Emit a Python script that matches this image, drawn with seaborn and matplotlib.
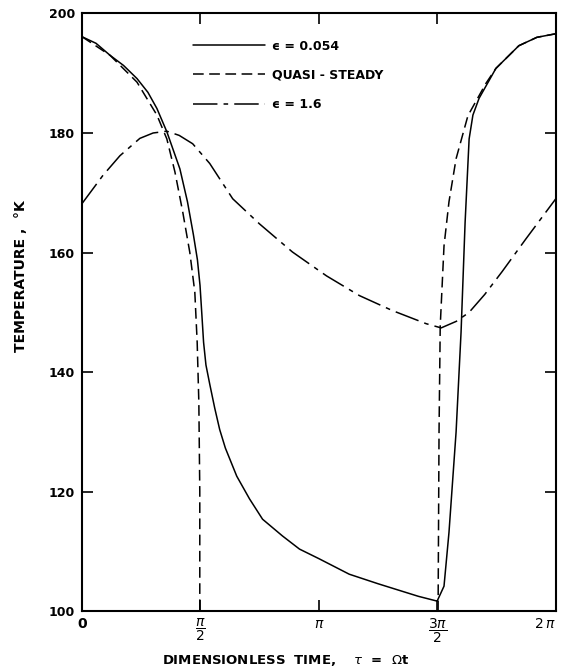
import numpy as np
import matplotlib
matplotlib.use("Agg")
import matplotlib.pyplot as plt
import seaborn as sns
from matplotlib.lines import Line2D

# time in units of pi, temperature in K
tau_eps_small = [0.000, 0.059, 0.118, 0.175, 0.232, 0.278, 0.316, 0.358, 0.413, 0.445,
                 0.470, 0.487, 0.498, 0.506, 0.513, 0.523, 0.539, 0.560, 0.581, 0.605,
                 0.653, 0.707, 0.762, 0.846, 0.918, 1.000, 1.128, 1.250, 1.339, 1.420,
                 1.499, 1.528, 1.549, 1.579, 1.600, 1.617, 1.634, 1.650, 1.676, 1.747,
                 1.844, 1.920, 2.000]
temp_eps_small = [196.1, 195.0, 193.0, 191.3, 189.1, 186.8, 184.1, 180.2, 174.0, 168.5,
                  163.0, 158.8, 154.5, 149.5, 145.0, 141.2, 138.0, 134.0, 130.4, 127.3,
                  122.6, 118.8, 115.4, 112.6, 110.4, 108.8, 106.2, 104.6, 103.5, 102.5,
                  101.7, 104.2, 113.2, 130.0, 146.7, 165.0, 179.0, 183.0, 185.8, 190.8,
                  194.6, 196.0, 196.6]

# quasi-steady: drops off the chart at pi/2, comes back at 3pi/2
tau_quasi_day = [0.000, 0.118, 0.232, 0.316, 0.358, 0.392, 0.425, 0.455, 0.476, 0.486,
                 0.493, 0.497, 0.497]
temp_quasi_day = [196.1, 193.0, 188.5, 183.0, 179.0, 173.5, 166.8, 160.0, 153.4, 145.0,
                  135.0, 120.0, 100.0]
tau_quasi_night = [1.503, 1.507, 1.512, 1.520, 1.528, 1.549, 1.579, 1.629, 1.705, 1.747,
                   1.844, 1.920, 2.000]
temp_quasi_night = [100.0, 130.0, 147.7, 154.4, 161.1, 168.5, 175.7, 182.9, 188.3, 190.8,
                    194.6, 196.0, 196.6]

tau_eps_large = [0.000, 0.088, 0.160, 0.244, 0.300, 0.358, 0.410, 0.467, 0.539, 0.636,
                 0.749, 0.888, 1.032, 1.171, 1.310, 1.453, 1.516, 1.580, 1.634, 1.700,
                 1.773, 1.874, 2.000]
temp_eps_large = [168.2, 172.9, 176.2, 179.1, 180.0, 180.3, 179.6, 178.2, 174.9, 169.0,
                  164.8, 160.1, 156.1, 152.8, 150.3, 148.1, 147.4, 148.5, 150.0, 153.0,
                  156.8, 162.3, 169.0]

x_ticks = [0, 0.5, 1.0, 1.5, 2.0]
x_tick_labels = ["0", r"$\dfrac{\pi}{2}$", r"$\pi$", r"$\dfrac{3\pi}{2}$", r"$2\,\pi$"]
y_ticks = [100, 120, 140, 160, 180, 200]

sns.set_style("ticks")
plt.rcParams["font.family"] = ["DejaVu Sans"]
plt.rcParams["mathtext.fontset"] = "dejavusans"
for key in ["text.color", "axes.labelcolor", "xtick.color", "ytick.color", "axes.edgecolor"]:
    plt.rcParams[key] = "black"

fig = plt.figure(figsize=(5.62, 6.71), dpi=100)
ax = fig.add_axes([0.146, 0.089, 0.843, 0.891])

dash_quasi = (0, (7, 3.6))
dash_large = (0, (16, 4, 3, 4))

sns.lineplot(x=np.array(tau_eps_small) * np.pi, y=temp_eps_small, ax=ax, color="black",
             lw=1.1, estimator=None, sort=False)
sns.lineplot(x=np.array(tau_quasi_day) * np.pi, y=temp_quasi_day, ax=ax, color="black",
             lw=1.1, linestyle=dash_quasi, estimator=None, sort=False)
sns.lineplot(x=np.array(tau_quasi_night) * np.pi, y=temp_quasi_night, ax=ax, color="black",
             lw=1.1, linestyle=dash_quasi, estimator=None, sort=False)
sns.lineplot(x=np.array(tau_eps_large) * np.pi, y=temp_eps_large, ax=ax, color="black",
             lw=1.1, linestyle=dash_large, estimator=None, sort=False)

ax.set_xlim(0, 2 * np.pi)
ax.set_ylim(100, 200)
ax.set_xticks(np.array(x_ticks) * np.pi)
ax.set_xticklabels(x_tick_labels, fontsize=10, fontweight="bold")
ax.get_xticklabels()[-1].set_ha("right")
ax.set_yticks(y_ticks)
ax.set_yticklabels([str(v) for v in y_ticks], fontsize=9, fontweight="bold")
ax.tick_params(direction="in", length=8, width=1.2, top=True, right=True, pad=5)
ax.tick_params(axis="x", pad=4)
for s in ax.spines.values():
    s.set_linewidth(1.5)

ax.set_xlabel("DIMENSIONLESS  TIME,    $\\tau$  =  $\\Omega$t", fontsize=9.5,
              fontweight="bold")
ax.xaxis.set_label_coords(0.43, -0.07)
ax.set_ylabel("TEMPERATURE ,  °K", fontsize=10, fontweight="bold")
ax.yaxis.set_label_coords(-0.115, 0.56)

handles = [
    Line2D([], [], color="black", lw=1.1),
    Line2D([], [], color="black", lw=1.1, linestyle=dash_quasi),
    Line2D([], [], color="black", lw=1.1, linestyle=dash_large),
]
labels = ["ϵ = 0.054", "QUASI - STEADY", "ϵ = 1.6"]
ax.legend(handles, labels, loc="upper left", bbox_to_anchor=(0.21, 0.975),
          frameon=False, handlelength=5.8, handletextpad=0.5, labelspacing=1.3,
          prop={"size": 9, "weight": "bold"})

fig.savefig("out.png", dpi=100)
